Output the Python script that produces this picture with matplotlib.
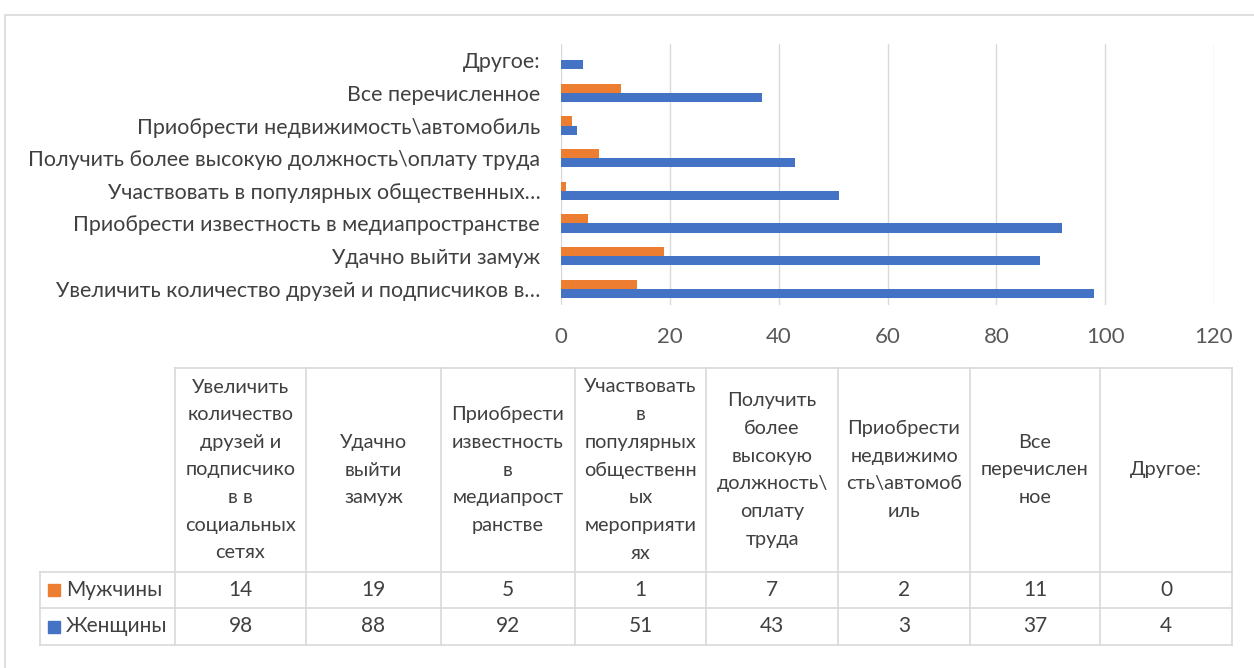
import matplotlib.pyplot as plt
import numpy as np

# Canvas size in pixels (dpi 100)
W, H = 1254, 668

ORANGE = '#ED7D31'
BLUE = '#4472C4'
GRID = '#D9D9D9'
TEXT = '#595959'
LABEL_FONT = ['Lato', 'DejaVu Sans']
TABLE_FONT = ['Lato', 'DejaVu Sans']

# Data
categories = ['Увеличить количество друзей и подписчиков в…',
              'Удачно выйти замуж',
              'Приобрести известность в медиапространстве',
              'Участвовать в популярных общественных…',
              'Получить более высокую должность\\оплату труда',
              'Приобрести недвижимость\\автомобиль',
              'Все перечисленное',
              'Другое:']
table_headers = ['Увеличить\nколичество\nдрузей и\nподписчико\nв в\nсоциальных\nсетях',
                 'Удачно\nвыйти\nзамуж',
                 'Приобрести\nизвестность\nв\nмедиапрост\nранстве',
                 'Участвовать\nв\nпопулярных\nобщественн\nых\nмероприяти\nях',
                 'Получить\nболее\nвысокую\nдолжность\\\nоплату\nтруда',
                 'Приобрести\nнедвижимо\nсть\\автомоб\nиль',
                 'Все\nперечислен\nное',
                 'Другое:']
series_names = ['Мужчины', 'Женщины']
men = [14, 19, 5, 1, 7, 2, 11, 0]
women = [98, 88, 92, 51, 43, 3, 37, 4]
xticks = [0, 20, 40, 60, 80, 100, 120]

fig = plt.figure(figsize=(W / 100, H / 100), dpi=100)

# Overlay in pixel coordinates for border and data table
ov = fig.add_axes([0, 0, 1, 1])
ov.set_xlim(0, W)
ov.set_ylim(H, 0)
ov.axis('off')
ov.plot([5, 5, W], [H, 15, 15], color=GRID, lw=1.2)

# Bar chart
ax = fig.add_axes([561 / W, 1 - 305 / H, (1214 - 561) / W, (305 - 44) / H])
y = np.arange(len(categories))
ax.barh(y + 0.14, men, height=0.28, color=ORANGE, zorder=3)
ax.barh(y - 0.14, women, height=0.28, color=BLUE, zorder=3)
ax.set_xlim(0, 120)
ax.set_ylim(-0.5, len(categories) - 0.5)
ax.set_xticks(xticks)
ax.set_yticks(y)
ax.set_yticklabels(categories, fontsize=15.4, color='#404040', family=LABEL_FONT)
ax.set_xticklabels([str(t) for t in xticks], fontsize=16, color=TEXT, family=TABLE_FONT)
ax.tick_params(axis='both', length=0)
ax.tick_params(axis='y', pad=15)
ax.tick_params(axis='x', pad=16)
ax.grid(axis='x', color=GRID, lw=1, zorder=0)
for s in ax.spines.values():
    s.set_visible(False)

# Data table
col_x = [175, 306, 441, 575, 706, 838, 970, 1100, 1232]
row_y = [368, 572, 608, 645]
left = 40
ov.plot([col_x[0], col_x[-1]], [row_y[0], row_y[0]], color=GRID, lw=1.2)
for ry in row_y[1:]:
    ov.plot([left, col_x[-1]], [ry, ry], color=GRID, lw=1.2)
ov.plot([left, left], [row_y[1], row_y[3]], color=GRID, lw=1.2)
for cx in col_x:
    ov.plot([cx, cx], [row_y[0], row_y[3]], color=GRID, lw=1.2)

for i, head in enumerate(table_headers):
    cx = (col_x[i] + col_x[i + 1]) / 2
    ov.text(cx, (row_y[0] + row_y[1]) / 2, head, ha='center', va='center',
            fontsize=14.3, color='#404040', family=TABLE_FONT, linespacing=1.76)
    ov.text(cx, (row_y[1] + row_y[2]) / 2, str(men[i]), ha='center', va='center',
            fontsize=15, color='#404040', family=TABLE_FONT)
    ov.text(cx, (row_y[2] + row_y[3]) / 2, str(women[i]), ha='center', va='center',
            fontsize=15, color='#404040', family=TABLE_FONT)

for k, (name, col) in enumerate(zip(series_names, [ORANGE, BLUE])):
    cy = (row_y[k + 1] + row_y[k + 2]) / 2
    ov.add_patch(plt.Rectangle((48, cy - 6), 12, 12, color=col))
    ov.text(66, cy, name, ha='left', va='center', fontsize=15,
            color='#404040', family=TABLE_FONT)

fig.savefig('out.png', dpi=100)
